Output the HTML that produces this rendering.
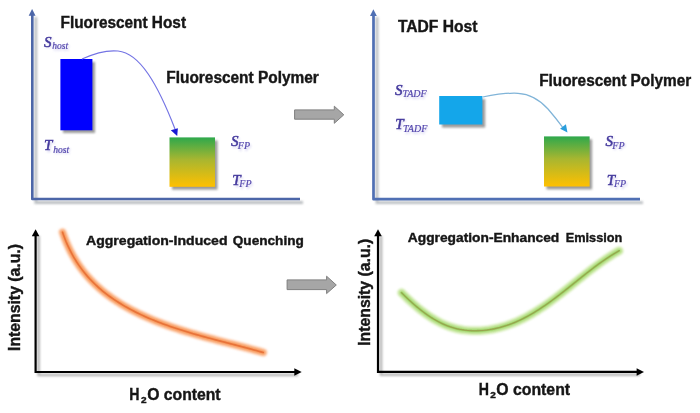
<!DOCTYPE html>
<html><head><meta charset="utf-8">
<style>
html,body{margin:0;padding:0;background:#fff;}
body{width:700px;height:413px;overflow:hidden;}
svg{display:block;filter:blur(0.35px);}
.t{font-family:"Liberation Sans",sans-serif;font-weight:bold;fill:#161616;stroke:#161616;stroke-width:0.4;}
.s{font-family:"Liberation Serif",serif;font-style:italic;fill:#43389c;stroke:#43389c;stroke-width:0.5;}
.sh{fill:#a49ee0;stroke:none;opacity:0.55;}
.sb{fill:#5548ae;stroke:#5548ae;stroke-width:0.2;}
</style></head><body>
<svg width="700" height="413" viewBox="0 0 700 413">
<defs>
  <filter id="sh" x="-20%" y="-20%" width="140%" height="140%"><feGaussianBlur stdDeviation="0.9"/></filter>
  <filter id="tb" x="-20%" y="-30%" width="140%" height="160%"><feGaussianBlur stdDeviation="0.9"/></filter>
  <filter id="gl" x="-20%" y="-20%" width="140%" height="140%"><feGaussianBlur stdDeviation="1.3"/></filter>
  <linearGradient id="gy" x1="0" y1="0" x2="0" y2="1">
    <stop offset="0" stop-color="#2ea84c"/>
    <stop offset="0.45" stop-color="#a8b630"/>
    <stop offset="1" stop-color="#ffc000"/>
  </linearGradient>
</defs>

<!-- ===== top-left panel ===== -->
<path d="M35.8,17 V202.5 H303" fill="none" stroke="#b4b8bc" stroke-width="2.8" filter="url(#sh)" opacity="0.9"/>
<path d="M32.3,14 V199 H300" fill="none" stroke="#4c66a8" stroke-width="2.6" stroke-linejoin="round"/>
<path d="M32.1,9 L28.7,15.8 L35.5,15.8 Z" fill="#4c66a8"/>
<text class="t" x="60.5" y="27.6" font-size="16" textLength="125.5" lengthAdjust="spacingAndGlyphs" >Fluorescent Host</text>
<rect x="63" y="62" width="32" height="71" fill="#8a8a8a" filter="url(#sh)" opacity="0.85"/>
<rect x="60.4" y="59" width="32" height="71.3" fill="#0000ff"/>
<text class="s sh" filter="url(#tb)"><tspan x="45.2" y="48.1" font-size="15">S</tspan><tspan x="53.5" y="50.800000000000004" font-size="9.5">host</tspan></text><text class="s"><tspan x="44" y="46.5" font-size="15">S</tspan><tspan class="sb" x="52.3" y="49.2" font-size="9.5">host</tspan></text>
<text class="s sh" filter="url(#tb)"><tspan x="45.2" y="151.7" font-size="15">T</tspan><tspan x="54.5" y="154.29999999999998" font-size="9.5">host</tspan></text><text class="s"><tspan x="44" y="150.1" font-size="15">T</tspan><tspan class="sb" x="53.3" y="152.7" font-size="9.5">host</tspan></text>
<path d="M82,59 C95,53 108,50 118,51 C140,53 158,85 175,129" fill="none" stroke="#7474e4" stroke-width="1.2"/>
<path d="M177.2,136 L170.8,130.2 L177.9,128.2 Z" fill="#1818d4"/>
<text class="t" x="166.3" y="82.6" font-size="16" textLength="152.5" lengthAdjust="spacingAndGlyphs" >Fluorescent Polymer</text>
<rect x="172" y="140.5" width="45.5" height="49.2" fill="#8a8a8a" filter="url(#sh)" opacity="0.85"/>
<rect x="169.5" y="137.4" width="45.5" height="49.4" fill="url(#gy)"/>
<text class="s sh" filter="url(#tb)"><tspan x="232.2" y="147.5" font-size="15">S</tspan><tspan x="239.0" y="150.7" font-size="10">FP</tspan></text><text class="s"><tspan x="231" y="145.9" font-size="15">S</tspan><tspan class="sb" x="237.8" y="149.1" font-size="10">FP</tspan></text>
<text class="s sh" filter="url(#tb)"><tspan x="233.5" y="186.5" font-size="15">T</tspan><tspan x="240.5" y="188.7" font-size="10">FP</tspan></text><text class="s"><tspan x="232.3" y="184.9" font-size="15">T</tspan><tspan class="sb" x="239.3" y="187.1" font-size="10">FP</tspan></text>

<!-- gray arrow top -->
<path d="M294.6,109.9 H334.3 V106.2 L343.8,114.8 L334.3,123.3 V119.2 H294.6 Z" fill="#a6a6a6" stroke="#7f7f7f" stroke-width="1"/>

<!-- ===== top-right panel ===== -->
<path d="M377,17 V202.7 H643" fill="none" stroke="#b4b8bc" stroke-width="2.8" filter="url(#sh)" opacity="0.9"/>
<path d="M373.5,14 V199.2 H640" fill="none" stroke="#5070b4" stroke-width="2.7" stroke-linejoin="round"/>
<path d="M373.4,9.3 L370,16 L376.8,16 Z" fill="#5070b4"/>
<text class="t" x="397.9" y="32" font-size="16" textLength="79.5" lengthAdjust="spacingAndGlyphs" >TADF Host</text>
<rect x="442" y="99" width="43.2" height="28.5" fill="#8a8a8a" filter="url(#sh)" opacity="0.85"/>
<rect x="439.2" y="96" width="43.2" height="28.5" fill="#14a6ea"/>
<text class="s sh" filter="url(#tb)"><tspan x="396.2" y="96.1" font-size="15">S</tspan><tspan x="403.59999999999997" y="99.0" font-size="10">TADF</tspan></text><text class="s"><tspan x="395" y="94.5" font-size="15">S</tspan><tspan class="sb" x="402.4" y="97.4" font-size="10">TADF</tspan></text>
<text class="s sh" filter="url(#tb)"><tspan x="396.4" y="130.1" font-size="15">T</tspan><tspan x="404.2" y="133.79999999999998" font-size="10">TADF</tspan></text><text class="s"><tspan x="395.2" y="128.5" font-size="15">T</tspan><tspan class="sb" x="403" y="132.2" font-size="10">TADF</tspan></text>
<path d="M482.6,97 C495,94.5 508,92.8 518,93.3 C530,94 540,100 548,109 C554,116 558,121 562.5,127" fill="none" stroke="#80b4d8" stroke-width="1.25"/>
<path d="M567.5,132.5 L560.1,128.65 L565.9,124.35 Z" fill="#2a9edc"/>
<text class="t" x="539.2" y="85.5" font-size="16" textLength="152" lengthAdjust="spacingAndGlyphs" >Fluorescent Polymer</text>
<rect x="546.5" y="139.3" width="45.6" height="50.1" fill="#8a8a8a" filter="url(#sh)" opacity="0.85"/>
<rect x="544" y="136.4" width="45.6" height="50.1" fill="url(#gy)"/>
<text class="s sh" filter="url(#tb)"><tspan x="606.7" y="147.1" font-size="15">S</tspan><tspan x="613.5" y="150.29999999999998" font-size="10">FP</tspan></text><text class="s"><tspan x="605.5" y="145.5" font-size="15">S</tspan><tspan class="sb" x="612.3" y="148.7" font-size="10">FP</tspan></text>
<text class="s sh" filter="url(#tb)"><tspan x="608.0" y="186.5" font-size="15">T</tspan><tspan x="615.2" y="188.79999999999998" font-size="10">FP</tspan></text><text class="s"><tspan x="606.8" y="184.9" font-size="15">T</tspan><tspan class="sb" x="614" y="187.2" font-size="10">FP</tspan></text>

<!-- ===== bottom-left panel ===== -->
<path d="M38.6,236 V375 H298" fill="none" stroke="#a8a8a8" stroke-width="2.6" filter="url(#sh)" opacity="0.85"/>
<path d="M35.6,234 V372 H296" fill="none" stroke="#000" stroke-width="2.2"/>
<path d="M35.6,229.3 L31.8,236.2 L39.4,236.2 Z" fill="#000"/>
<path d="M301.7,372 L294.3,368.2 L294.3,375.8 Z" fill="#000"/>
<text class="t" x="0" y="0" font-size="16" textLength="107" lengthAdjust="spacingAndGlyphs" transform="translate(20.3,351) rotate(-90)">Intensity (a.u.)</text>
<text class="t" x="86" y="244.8" font-size="13" textLength="141.5" lengthAdjust="spacingAndGlyphs" >Aggregation-Induced</text>
<text class="t" x="232.8" y="244.8" font-size="13" textLength="71" lengthAdjust="spacingAndGlyphs" >Quenching</text>
<path d="M62.56,232.25 L63.39,234.67 L64.26,237.08 L65.17,239.45 L66.12,241.81 L67.12,244.13 L68.16,246.43 L69.24,248.71 L70.36,250.96 L71.52,253.18 L72.72,255.37 L73.96,257.53 L75.24,259.67 L76.55,261.77 L77.91,263.84 L79.31,265.89 L80.74,267.90 L82.21,269.88 L83.72,271.83 L85.27,273.74 L86.85,275.63 L88.47,277.47 L90.12,279.29 L91.81,281.07 L93.53,282.81 L95.29,284.52 L97.08,286.20 L98.90,287.84 L100.75,289.44 L102.64,291.02 L104.55,292.56 L106.49,294.07 L108.45,295.55 L110.44,297.00 L112.45,298.42 L114.49,299.81 L116.55,301.17 L118.63,302.50 L120.72,303.80 L122.84,305.08 L124.97,306.33 L127.13,307.55 L129.29,308.74 L131.47,309.91 L133.66,311.06 L135.87,312.18 L138.09,313.27 L140.32,314.35 L142.56,315.40 L144.81,316.43 L147.07,317.43 L149.34,318.42 L151.63,319.38 L153.92,320.33 L156.22,321.25 L158.53,322.16 L160.85,323.05 L163.18,323.92 L165.51,324.78 L167.85,325.62 L170.20,326.44 L172.56,327.25 L174.92,328.04 L177.29,328.82 L179.66,329.59 L182.04,330.34 L184.42,331.08 L186.81,331.81 L189.20,332.53 L191.60,333.24 L194.00,333.94 L196.40,334.63 L198.80,335.31 L201.21,335.98 L203.61,336.64 L206.02,337.30 L208.43,337.95 L210.84,338.60 L213.25,339.24 L215.66,339.87 L218.07,340.51 L220.48,341.13 L222.89,341.76 L225.30,342.38 L227.70,343.00 L230.10,343.62 L232.50,344.24 L234.90,344.86 L237.29,345.48 L239.68,346.11 L242.06,346.73 L244.44,347.36 L246.82,347.99 L249.19,348.62 L251.55,349.26 L253.91,349.90 L256.26,350.55 L258.60,351.20 L260.94,351.86 L263.27,352.52" fill="none" stroke="#fcc09a" stroke-width="8" stroke-linecap="round" filter="url(#gl)"/>
<path d="M62.56,232.25 L63.39,234.67 L64.26,237.08 L65.17,239.45 L66.12,241.81 L67.12,244.13 L68.16,246.43 L69.24,248.71 L70.36,250.96 L71.52,253.18 L72.72,255.37 L73.96,257.53 L75.24,259.67 L76.55,261.77 L77.91,263.84 L79.31,265.89 L80.74,267.90 L82.21,269.88 L83.72,271.83 L85.27,273.74 L86.85,275.63 L88.47,277.47 L90.12,279.29 L91.81,281.07 L93.53,282.81 L95.29,284.52 L97.08,286.20 L98.90,287.84 L100.75,289.44 L102.64,291.02 L104.55,292.56 L106.49,294.07 L108.45,295.55 L110.44,297.00 L112.45,298.42 L114.49,299.81 L116.55,301.17 L118.63,302.50 L120.72,303.80 L122.84,305.08 L124.97,306.33 L127.13,307.55 L129.29,308.74 L131.47,309.91 L133.66,311.06 L135.87,312.18 L138.09,313.27 L140.32,314.35 L142.56,315.40 L144.81,316.43 L147.07,317.43 L149.34,318.42 L151.63,319.38 L153.92,320.33 L156.22,321.25 L158.53,322.16 L160.85,323.05 L163.18,323.92 L165.51,324.78 L167.85,325.62 L170.20,326.44 L172.56,327.25 L174.92,328.04 L177.29,328.82 L179.66,329.59 L182.04,330.34 L184.42,331.08 L186.81,331.81 L189.20,332.53 L191.60,333.24 L194.00,333.94 L196.40,334.63 L198.80,335.31 L201.21,335.98 L203.61,336.64 L206.02,337.30 L208.43,337.95 L210.84,338.60 L213.25,339.24 L215.66,339.87 L218.07,340.51 L220.48,341.13 L222.89,341.76 L225.30,342.38 L227.70,343.00 L230.10,343.62 L232.50,344.24 L234.90,344.86 L237.29,345.48 L239.68,346.11 L242.06,346.73 L244.44,347.36 L246.82,347.99 L249.19,348.62 L251.55,349.26 L253.91,349.90 L256.26,350.55 L258.60,351.20 L260.94,351.86 L263.27,352.52" fill="none" stroke="#f6914e" stroke-width="3.6" stroke-linecap="round" filter="url(#sh)"/>
<path d="M62.56,232.25 L63.39,234.67 L64.26,237.08 L65.17,239.45 L66.12,241.81 L67.12,244.13 L68.16,246.43 L69.24,248.71 L70.36,250.96 L71.52,253.18 L72.72,255.37 L73.96,257.53 L75.24,259.67 L76.55,261.77 L77.91,263.84 L79.31,265.89 L80.74,267.90 L82.21,269.88 L83.72,271.83 L85.27,273.74 L86.85,275.63 L88.47,277.47 L90.12,279.29 L91.81,281.07 L93.53,282.81 L95.29,284.52 L97.08,286.20 L98.90,287.84 L100.75,289.44 L102.64,291.02 L104.55,292.56 L106.49,294.07 L108.45,295.55 L110.44,297.00 L112.45,298.42 L114.49,299.81 L116.55,301.17 L118.63,302.50 L120.72,303.80 L122.84,305.08 L124.97,306.33 L127.13,307.55 L129.29,308.74 L131.47,309.91 L133.66,311.06 L135.87,312.18 L138.09,313.27 L140.32,314.35 L142.56,315.40 L144.81,316.43 L147.07,317.43 L149.34,318.42 L151.63,319.38 L153.92,320.33 L156.22,321.25 L158.53,322.16 L160.85,323.05 L163.18,323.92 L165.51,324.78 L167.85,325.62 L170.20,326.44 L172.56,327.25 L174.92,328.04 L177.29,328.82 L179.66,329.59 L182.04,330.34 L184.42,331.08 L186.81,331.81 L189.20,332.53 L191.60,333.24 L194.00,333.94 L196.40,334.63 L198.80,335.31 L201.21,335.98 L203.61,336.64 L206.02,337.30 L208.43,337.95 L210.84,338.60 L213.25,339.24 L215.66,339.87 L218.07,340.51 L220.48,341.13 L222.89,341.76 L225.30,342.38 L227.70,343.00 L230.10,343.62 L232.50,344.24 L234.90,344.86 L237.29,345.48 L239.68,346.11 L242.06,346.73 L244.44,347.36 L246.82,347.99 L249.19,348.62 L251.55,349.26 L253.91,349.90 L256.26,350.55 L258.60,351.20 L260.94,351.86 L263.27,352.52" fill="none" stroke="#e8733a" stroke-width="1.6" stroke-linecap="round"/>
<text class="t" x="129.3" y="399.6" font-size="16" textLength="10.2" lengthAdjust="spacingAndGlyphs" >H</text>
<text class="t" x="141" y="402.5" font-size="9.5" textLength="5.6" lengthAdjust="spacingAndGlyphs" >2</text>
<text class="t" x="147.2" y="399.6" font-size="16" textLength="73.4" lengthAdjust="spacingAndGlyphs" >O content</text>

<!-- gray arrow bottom -->
<path d="M287.1,279.9 H326.6 V276.2 L336.3,285 L326.6,293.6 V289.6 H287.1 Z" fill="#a6a6a6" stroke="#7f7f7f" stroke-width="1"/>

<!-- ===== bottom-right panel ===== -->
<path d="M381,236 V374.8 H640" fill="none" stroke="#a8a8a8" stroke-width="2.6" filter="url(#sh)" opacity="0.85"/>
<path d="M378,234 V371.8 H638" fill="none" stroke="#000" stroke-width="2.2"/>
<path d="M378,229.3 L374.2,236.2 L381.8,236.2 Z" fill="#000"/>
<path d="M644,372 L636.6,368.2 L636.6,375.8 Z" fill="#000"/>
<text class="t" x="0" y="0" font-size="16" textLength="107" lengthAdjust="spacingAndGlyphs" transform="translate(369.8,345.8) rotate(-90)">Intensity (a.u.)</text>
<text class="t" x="407.8" y="242.2" font-size="13" textLength="151.5" lengthAdjust="spacingAndGlyphs" >Aggregation-Enhanced</text>
<text class="t" x="565.8" y="242.2" font-size="13" textLength="56.5" lengthAdjust="spacingAndGlyphs" >Emission</text>
<path d="M401.59,292.74 L403.37,294.52 L405.19,296.30 L407.04,298.08 L408.91,299.85 L410.82,301.60 L412.75,303.34 L414.72,305.06 L416.71,306.76 L418.73,308.43 L420.77,310.06 L422.85,311.66 L424.95,313.22 L427.07,314.74 L429.23,316.21 L431.41,317.63 L433.61,318.99 L435.84,320.30 L438.09,321.54 L440.37,322.71 L442.67,323.82 L445.00,324.84 L447.35,325.80 L449.72,326.66 L452.11,327.45 L454.53,328.15 L456.96,328.76 L459.42,329.29 L461.88,329.73 L464.36,330.10 L466.85,330.39 L469.36,330.60 L471.87,330.73 L474.38,330.79 L476.90,330.77 L479.42,330.69 L481.94,330.53 L484.46,330.31 L486.98,330.02 L489.49,329.66 L491.99,329.24 L494.49,328.75 L496.97,328.20 L499.44,327.60 L501.89,326.93 L504.33,326.21 L506.75,325.44 L509.14,324.61 L511.52,323.72 L513.87,322.79 L516.21,321.81 L518.52,320.78 L520.82,319.70 L523.10,318.58 L525.36,317.42 L527.60,316.22 L529.83,314.98 L532.04,313.71 L534.24,312.40 L536.42,311.06 L538.59,309.69 L540.75,308.28 L542.89,306.85 L545.02,305.40 L547.14,303.92 L549.25,302.42 L551.35,300.89 L553.43,299.35 L555.52,297.79 L557.59,296.22 L559.65,294.64 L561.71,293.04 L563.76,291.43 L565.81,289.81 L567.85,288.19 L569.89,286.56 L571.92,284.94 L573.95,283.31 L575.98,281.68 L578.01,280.05 L580.03,278.43 L582.06,276.81 L584.08,275.20 L586.11,273.60 L588.14,272.02 L590.16,270.44 L592.20,268.88 L594.23,267.34 L596.27,265.82 L598.31,264.31 L600.36,262.83 L602.42,261.38 L604.48,259.95 L606.55,258.54 L608.62,257.17 L610.71,255.82 L612.80,254.51 L614.90,253.23 L617.02,251.99 L619.14,250.79" fill="none" stroke="#cdeaa8" stroke-width="8.5" stroke-linecap="round" filter="url(#gl)"/>
<path d="M401.59,292.74 L403.37,294.52 L405.19,296.30 L407.04,298.08 L408.91,299.85 L410.82,301.60 L412.75,303.34 L414.72,305.06 L416.71,306.76 L418.73,308.43 L420.77,310.06 L422.85,311.66 L424.95,313.22 L427.07,314.74 L429.23,316.21 L431.41,317.63 L433.61,318.99 L435.84,320.30 L438.09,321.54 L440.37,322.71 L442.67,323.82 L445.00,324.84 L447.35,325.80 L449.72,326.66 L452.11,327.45 L454.53,328.15 L456.96,328.76 L459.42,329.29 L461.88,329.73 L464.36,330.10 L466.85,330.39 L469.36,330.60 L471.87,330.73 L474.38,330.79 L476.90,330.77 L479.42,330.69 L481.94,330.53 L484.46,330.31 L486.98,330.02 L489.49,329.66 L491.99,329.24 L494.49,328.75 L496.97,328.20 L499.44,327.60 L501.89,326.93 L504.33,326.21 L506.75,325.44 L509.14,324.61 L511.52,323.72 L513.87,322.79 L516.21,321.81 L518.52,320.78 L520.82,319.70 L523.10,318.58 L525.36,317.42 L527.60,316.22 L529.83,314.98 L532.04,313.71 L534.24,312.40 L536.42,311.06 L538.59,309.69 L540.75,308.28 L542.89,306.85 L545.02,305.40 L547.14,303.92 L549.25,302.42 L551.35,300.89 L553.43,299.35 L555.52,297.79 L557.59,296.22 L559.65,294.64 L561.71,293.04 L563.76,291.43 L565.81,289.81 L567.85,288.19 L569.89,286.56 L571.92,284.94 L573.95,283.31 L575.98,281.68 L578.01,280.05 L580.03,278.43 L582.06,276.81 L584.08,275.20 L586.11,273.60 L588.14,272.02 L590.16,270.44 L592.20,268.88 L594.23,267.34 L596.27,265.82 L598.31,264.31 L600.36,262.83 L602.42,261.38 L604.48,259.95 L606.55,258.54 L608.62,257.17 L610.71,255.82 L612.80,254.51 L614.90,253.23 L617.02,251.99 L619.14,250.79" fill="none" stroke="#9cd466" stroke-width="3.4" stroke-linecap="round" filter="url(#sh)"/>
<path d="M401.59,292.74 L403.37,294.52 L405.19,296.30 L407.04,298.08 L408.91,299.85 L410.82,301.60 L412.75,303.34 L414.72,305.06 L416.71,306.76 L418.73,308.43 L420.77,310.06 L422.85,311.66 L424.95,313.22 L427.07,314.74 L429.23,316.21 L431.41,317.63 L433.61,318.99 L435.84,320.30 L438.09,321.54 L440.37,322.71 L442.67,323.82 L445.00,324.84 L447.35,325.80 L449.72,326.66 L452.11,327.45 L454.53,328.15 L456.96,328.76 L459.42,329.29 L461.88,329.73 L464.36,330.10 L466.85,330.39 L469.36,330.60 L471.87,330.73 L474.38,330.79 L476.90,330.77 L479.42,330.69 L481.94,330.53 L484.46,330.31 L486.98,330.02 L489.49,329.66 L491.99,329.24 L494.49,328.75 L496.97,328.20 L499.44,327.60 L501.89,326.93 L504.33,326.21 L506.75,325.44 L509.14,324.61 L511.52,323.72 L513.87,322.79 L516.21,321.81 L518.52,320.78 L520.82,319.70 L523.10,318.58 L525.36,317.42 L527.60,316.22 L529.83,314.98 L532.04,313.71 L534.24,312.40 L536.42,311.06 L538.59,309.69 L540.75,308.28 L542.89,306.85 L545.02,305.40 L547.14,303.92 L549.25,302.42 L551.35,300.89 L553.43,299.35 L555.52,297.79 L557.59,296.22 L559.65,294.64 L561.71,293.04 L563.76,291.43 L565.81,289.81 L567.85,288.19 L569.89,286.56 L571.92,284.94 L573.95,283.31 L575.98,281.68 L578.01,280.05 L580.03,278.43 L582.06,276.81 L584.08,275.20 L586.11,273.60 L588.14,272.02 L590.16,270.44 L592.20,268.88 L594.23,267.34 L596.27,265.82 L598.31,264.31 L600.36,262.83 L602.42,261.38 L604.48,259.95 L606.55,258.54 L608.62,257.17 L610.71,255.82 L612.80,254.51 L614.90,253.23 L617.02,251.99 L619.14,250.79" fill="none" stroke="#94c458" stroke-width="1.8" stroke-linecap="round"/>
<path d="M401.59,292.74 L403.37,294.52 L405.19,296.30 L407.04,298.08 L408.91,299.85 L410.82,301.60 L412.75,303.34 L414.72,305.06 L416.71,306.76 L418.73,308.43 L420.77,310.06 L422.85,311.66 L424.95,313.22 L427.07,314.74 L429.23,316.21 L431.41,317.63 L433.61,318.99 L435.84,320.30 L438.09,321.54 L440.37,322.71 L442.67,323.82 L445.00,324.84 L447.35,325.80 L449.72,326.66 L452.11,327.45 L454.53,328.15 L456.96,328.76 L459.42,329.29 L461.88,329.73 L464.36,330.10 L466.85,330.39 L469.36,330.60 L471.87,330.73 L474.38,330.79 L476.90,330.77 L479.42,330.69 L481.94,330.53 L484.46,330.31 L486.98,330.02 L489.49,329.66 L491.99,329.24 L494.49,328.75 L496.97,328.20 L499.44,327.60 L501.89,326.93 L504.33,326.21 L506.75,325.44 L509.14,324.61 L511.52,323.72 L513.87,322.79 L516.21,321.81 L518.52,320.78 L520.82,319.70 L523.10,318.58 L525.36,317.42 L527.60,316.22 L529.83,314.98 L532.04,313.71 L534.24,312.40 L536.42,311.06 L538.59,309.69 L540.75,308.28 L542.89,306.85 L545.02,305.40 L547.14,303.92 L549.25,302.42 L551.35,300.89 L553.43,299.35 L555.52,297.79 L557.59,296.22 L559.65,294.64 L561.71,293.04 L563.76,291.43 L565.81,289.81 L567.85,288.19 L569.89,286.56 L571.92,284.94 L573.95,283.31 L575.98,281.68 L578.01,280.05 L580.03,278.43 L582.06,276.81 L584.08,275.20 L586.11,273.60 L588.14,272.02 L590.16,270.44 L592.20,268.88 L594.23,267.34 L596.27,265.82 L598.31,264.31 L600.36,262.83 L602.42,261.38 L604.48,259.95 L606.55,258.54 L608.62,257.17 L610.71,255.82 L612.80,254.51 L614.90,253.23 L617.02,251.99 L619.14,250.79" fill="none" stroke="#a07040" stroke-width="0.8" stroke-linecap="round" opacity="0.55"/>
<text class="t" x="478.7" y="394.5" font-size="16" textLength="10.2" lengthAdjust="spacingAndGlyphs" >H</text>
<text class="t" x="490.2" y="397.8" font-size="9.5" textLength="5.6" lengthAdjust="spacingAndGlyphs" >2</text>
<text class="t" x="496.3" y="394.5" font-size="16" textLength="73.8" lengthAdjust="spacingAndGlyphs" >O content</text>
</svg>
</body></html>
